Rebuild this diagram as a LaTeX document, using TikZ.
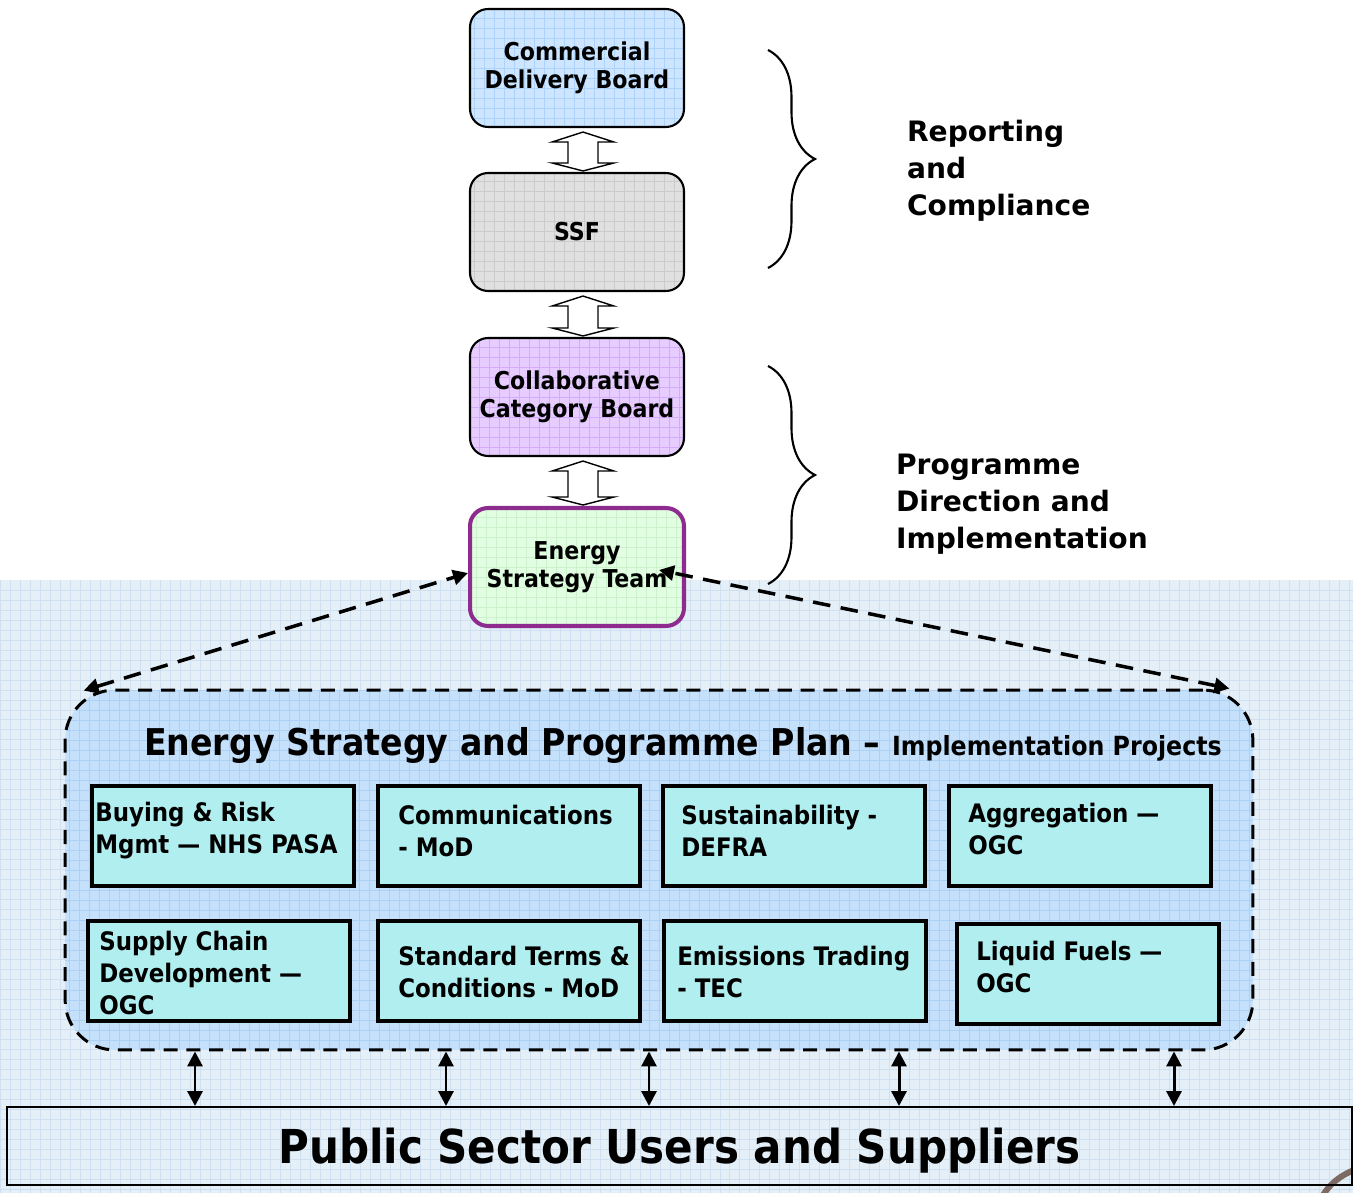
\documentclass[tikz,border=0pt]{standalone}
\usepackage{fontspec}
\setmainfont{DejaVu Sans Condensed}[BoldFont={DejaVu Sans Condensed Bold}]
\newfontfamily\widefont{DejaVu Sans}[BoldFont={DejaVu Sans Bold}]
\usetikzlibrary{calc,arrows.meta,decorations.pathreplacing}
\definecolor{bgfill}{HTML}{E5EFF7}
\definecolor{bgline}{HTML}{CFE1F1}
\definecolor{cdbfill}{HTML}{CDE5FE}
\definecolor{cdbline}{HTML}{ADD3FB}
\definecolor{ssffill}{HTML}{E0E0E0}
\definecolor{ssfline}{HTML}{CBCBCB}
\definecolor{ccbfill}{HTML}{E6CCFF}
\definecolor{ccbline}{HTML}{D4AAFA}
\definecolor{estfill}{HTML}{E2FEE2}
\definecolor{estline}{HTML}{CCF2CC}
\definecolor{estpurple}{HTML}{8E2B8E}
\definecolor{planfill}{HTML}{C4E0FA}
\definecolor{planline}{HTML}{ABD1F6}
\definecolor{projfill}{HTML}{B1EEEF}
\definecolor{arcbrown}{HTML}{7B6B62}
\newcommand{\hollowarrow}[2]{\draw[fill=white,line width=0.8pt] ($(#1.south)+(6,4)$) -- ++(31,10) -- ++(-16,0) -- ($(#2.north)+(21,-9)$) -- ++(16,0) -- ($(#2.north)+(6,-1)$) -- ++(-31,-8) -- ++(16,0) -- ($(#1.south)+(-9,14)$) -- ++(-16,0) -- cycle;}

\begin{document}
\begin{tikzpicture}[x=0.02cm,y=-0.02cm,line width=1.2pt,>={Triangle[length=8.5pt,width=8.5pt]},
gridfill/.style 2 args={fill=#1,path picture={\draw[#2,solid,line width=0.4pt,step=0.2cm] (path picture bounding box.south west) grid (path picture bounding box.north east);}},
board/.style={draw,rounded corners=0.36cm,minimum width=4.28cm,minimum height=2.36cm,align=center,font=\fontsize{14}{16}\selectfont\bfseries},
proj/.style={draw,line width=2pt,fill=projfill,minimum width=5.24cm,minimum height=2cm},
projtext/.style={anchor=west,align=left,inner sep=0pt,font=\fontsize{14.5}{18.2}\selectfont\bfseries},
side/.style={anchor=west,align=left,inner sep=0pt,font=\widefont\fontsize{16}{21}\selectfont\bfseries},
dashlink/.style={dash pattern=on 10pt off 6pt,line width=2pt}]
\useasboundingbox (0,0) rectangle (1353,1193);
\fill[bgfill] (0,580) rectangle (1353,1193);
\draw[bgline,line width=0.4pt,step=0.2cm] (0,580) grid (1353,1193);
\draw[arcbrown,line width=3.4pt] (1320,1200) .. controls (1330,1182) and (1343,1173) .. (1365,1166);
\node[board,gridfill={cdbfill}{cdbline}] (cdb) at (577,68) {Commercial\\Delivery Board};
\node[board,gridfill={ssffill}{ssfline}] (ssf) at (577,232) {SSF};
\node[board,gridfill={ccbfill}{ccbline}] (ccb) at (577,397) {Collaborative\\Category Board};
\node[board,gridfill={estfill}{estline},draw=estpurple,line width=2.3pt] (est) at (577,567) {Energy\\Strategy Team};
\hollowarrow{cdb}{ssf}
\hollowarrow{ssf}{ccb}
\hollowarrow{ccb}{est}
\draw[decorate,decoration={brace,amplitude=0.94cm}] (768,50) -- (768,268);
\draw[decorate,decoration={brace,amplitude=0.94cm}] (768,366) -- (768,584);
\node[side] (rep) at (906,171) {Reporting\\and\\Compliance};
\node[side] (prog) at (895,504) {Programme\\Direction and\\Implementation};
\node[draw,dash pattern=on 8pt off 5pt,line width=1.7pt,rounded corners=1cm,minimum width=23.76cm,minimum height=7.2cm,gridfill={planfill}{planline}] (plan) at (659,870) {};
\node[anchor=base west,inner sep=0pt,font=\fontsize{21}{24}\selectfont\bfseries] (title) at (143,755) {Energy Strategy and Programme Plan – {\fontsize{15}{18}\selectfont Implementation Projects}};
\foreach \n/\x/\y/\o/\d/\t in {1/223/836/4/-5/{Buying \& Risk\\Mgmt — NHS PASA},2/509/836/21/-5/{Communications\\- MoD},3/794/836/19/-5/{Sustainability -\\DEFRA},4/1080/836/20/-7/{Aggregation —\\OGC},5/219/971/12/2/{Supply Chain\\Development —\\OGC},6/509/971/21/1/{Standard Terms \&\\Conditions - MoD},7/795/971/14/1/{Emissions Trading\\- TEC},8/1088/974/20/-7/{Liquid Fuels —\\OGC}}
{\node[proj] (p\n) at (\x,\y) {};
\node[projtext] (t\n) at ($(p\n.west)+(\o,\d)$) {\t};}
\coordinate (pl) at ($(plan.north west)+(20,2)$);
\coordinate (pr) at ($(plan.north east)+(-25,0)$);
\draw[dashlink,<->] (pl) -- ($(est.west)+(0,6)$);
\draw[dashlink,<->] (pr) -- ($(est.east)+(-27,3)$);
\node[draw,line width=1.1pt,minimum width=26.9cm,minimum height=1.56cm,text depth=0pt,font=\fontsize{26.6}{30}\selectfont\bfseries] (pub) at (679.5,1146) {Public Sector Users and Suppliers};
\foreach \x in {195,446,649,899,1174}
\draw[<->,line width=1.7pt] (\x,0 |- plan.south) -- (\x,0 |- pub.north);
\end{tikzpicture}
\end{document}
